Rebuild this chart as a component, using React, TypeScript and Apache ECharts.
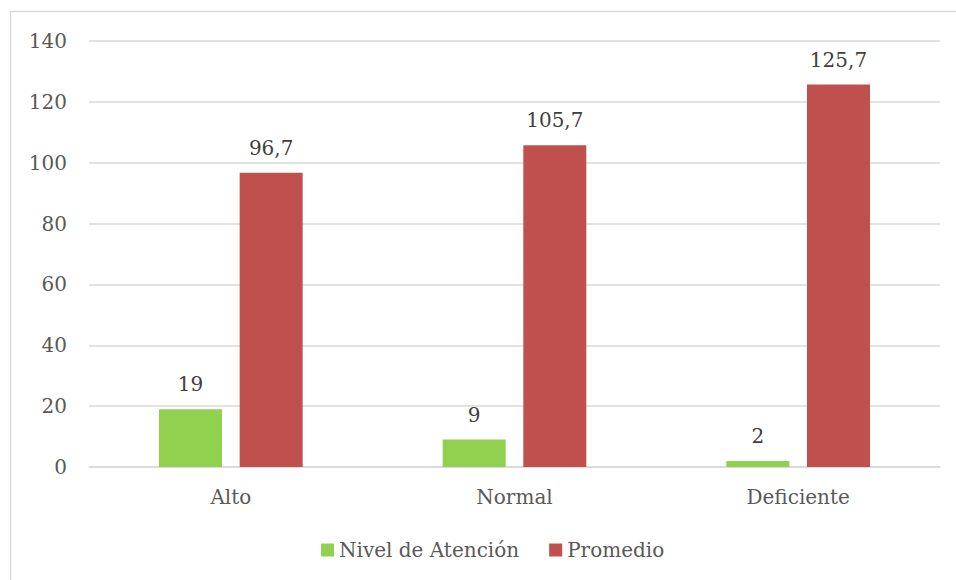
import React, { useEffect, useRef } from "react";
import * as echarts from "echarts";

const categories = ["Alto", "Normal", "Deficiente"];
const nivelAtencion = [19, 9, 2];
const promedio = [96.7, 105.7, 125.7];
const seriesNames = ["Nivel de Atención", "Promedio"];

const FONT = "DejaVu Serif";

export default function App() {
  const ref = useRef<HTMLDivElement>(null);
  useEffect(() => {
    if (!ref.current) return;
    const chart = echarts.init(ref.current, undefined, { renderer: "svg" });
    const labelFmt = (p: any) => String(p.value).replace(".", ",");
    chart.setOption({
      animation: false,
      backgroundColor: "#ffffff",
      textStyle: { fontFamily: FONT },
      graphic: [
        { type: "line", shape: { x1: 10, y1: 11.5, x2: 956, y2: 11.5 }, style: { stroke: "#d9d9d9", lineWidth: 1.5 } },
        { type: "line", shape: { x1: 10.5, y1: 11, x2: 10.5, y2: 580 }, style: { stroke: "#d9d9d9", lineWidth: 1.5 } },
      ],
      grid: { left: 89, right: 16, top: 41, bottom: 113, containLabel: false },
      legend: {
        bottom: 15,
        left: 316,
        itemWidth: 13,
        itemHeight: 13,
        itemGap: 30,
        icon: "rect",
        textStyle: { fontFamily: FONT, fontSize: 20, color: "#595959" },
        data: seriesNames,
      },
      xAxis: {
        type: "category",
        data: categories,
        axisLine: { lineStyle: { color: "#d9d9d9", width: 1.5 } },
        axisTick: { show: false },
        axisLabel: { fontFamily: FONT, fontSize: 20, color: "#595959", margin: 20 },
      },
      yAxis: {
        type: "value",
        min: 0,
        max: 140,
        interval: 20,
        axisLine: { show: false },
        axisTick: { show: false },
        splitLine: { lineStyle: { color: "#d9d9d9", width: 1.5 } },
        axisLabel: { fontFamily: FONT, fontSize: 20, color: "#595959", margin: 22 },
      },
      series: [
        {
          name: seriesNames[0],
          type: "bar",
          data: nivelAtencion,
          barWidth: 63,
          barGap: "28%",
          itemStyle: { color: "#92D050" },
          label: { show: true, position: "top", distance: 15, formatter: labelFmt, fontFamily: FONT, fontSize: 20, color: "#404040" },
        },
        {
          name: seriesNames[1],
          type: "bar",
          data: promedio,
          barWidth: 63,
          itemStyle: { color: "#C0504D" },
          label: { show: true, position: "top", distance: 15, formatter: labelFmt, fontFamily: FONT, fontSize: 20, color: "#404040" },
        },
      ],
    });
    return () => chart.dispose();
  }, []);
  return <div ref={ref} style={{ position: "absolute", left: 0, top: 0, width: 956, height: 580 }} />;
}
